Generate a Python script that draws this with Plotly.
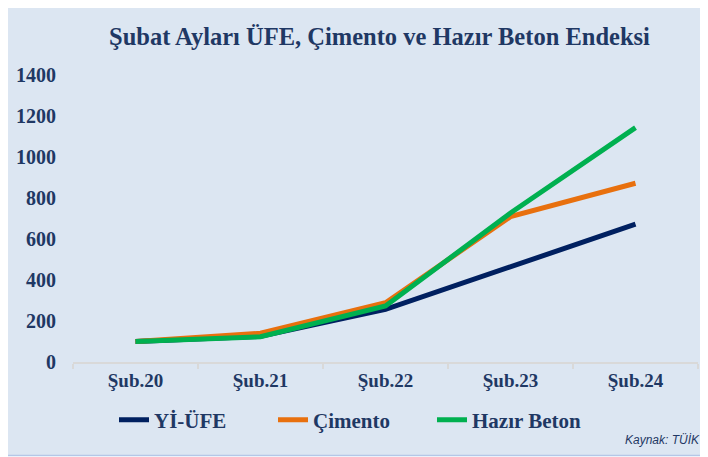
import plotly.graph_objects as go

categories = ["Şub.20", "Şub.21", "Şub.22", "Şub.23", "Şub.24"]
yi_ufe = [100, 125, 257, 464, 672]
cimento = [100, 140, 289, 709, 872]
hazir_beton = [100, 123, 273, 727, 1143]
series_names = ["Yİ-ÜFE", "Çimento", "Hazır Beton"]
colors = ["#002060", "#E8700E", "#00B050"]
y_ticks = [0, 200, 400, 600, 800, 1000, 1200, 1400]

NAVY = "#1F3864"
FONT = "Liberation Serif"
OFF = 8  # page body margin

# plot area in page pixels: x 73..698, y 75..362
L, T, W, H = 73, 75, 625, 287
FW, FH = 708 - OFF, 457 - OFF
def px(x):
    return (x - L) / W
def py(y):
    return (T + H - y) / H

fig = go.Figure()
for name, vals, col in zip(series_names, [yi_ufe, cimento, hazir_beton], colors):
    fig.add_trace(go.Scatter(x=categories, y=vals, name=name, mode="lines",
                             line=dict(color=col, width=5)))

shapes = [
    dict(type="rect", xref="paper", yref="paper", x0=px(3), x1=px(720), y0=py(455), y1=py(3),
         fillcolor="#DCE6F2", line=dict(width=0), layer="below"),
    dict(type="line", xref="paper", yref="paper", x0=px(4), x1=px(4), y0=py(460), y1=py(3),
         line=dict(color="#1F3864", width=2.5), layer="below"),
    dict(type="line", xref="paper", yref="paper", x0=px(3), x1=px(720), y0=py(3.5), y1=py(3.5),
         line=dict(color="#1F3864", width=2.5), layer="below"),
    dict(type="line", xref="paper", yref="paper", x0=px(3), x1=px(720), y0=py(455.5), y1=py(455.5),
         line=dict(color="#B4C7E7", width=1.5), layer="below"),
]

annotations = [
    dict(text="Şubat Ayları ÜFE, Çimento ve Hazır Beton Endeksi", xref="paper", yref="paper",
         x=px(379), y=py(37), xanchor="center", yanchor="middle", showarrow=False,
         font=dict(family=FONT, size=24.5, color=NAVY, weight="bold")),
    dict(text="<i>Kaynak: TÜİK</i>", xref="paper", yref="paper",
         x=px(702), y=py(440), xanchor="right", yanchor="middle", showarrow=False,
         font=dict(family="Liberation Sans", size=12, color=NAVY)),
]

fig.update_layout(
    width=FW, height=FH,
    margin=dict(l=L - OFF, r=FW - (L - OFF) - W, t=T - OFF, b=FH - (T - OFF) - H,
                autoexpand=False),
    paper_bgcolor="white", plot_bgcolor="rgba(0,0,0,0)",
    shapes=shapes, annotations=annotations,
    showlegend=True,
    legend=dict(orientation="h", x=px(114), y=py(420), xanchor="left", yanchor="middle",
                font=dict(family=FONT, size=21, color=NAVY, weight="bold"),
                bgcolor="rgba(0,0,0,0)", entrywidth=114, entrywidthmode="pixels",
                tracegroupgap=0),
    xaxis=dict(type="category", tickson="boundaries", ticks="outside", ticklen=5,
               tickcolor="#D9D9D9", tickwidth=1.5, showline=True, linecolor="#D9D9D9",
               linewidth=2, showgrid=False, range=[-0.5, 4.5],
               tickfont=dict(family=FONT, size=19, color=NAVY, weight="bold")),
    yaxis=dict(range=[0, 1400], tickvals=y_ticks, showgrid=False, zeroline=False,
               showline=False, ticks="", ticklabelstandoff=16,
               tickfont=dict(family=FONT, size=20, color=NAVY, weight="bold")),
)

fig.write_html("out.html")
